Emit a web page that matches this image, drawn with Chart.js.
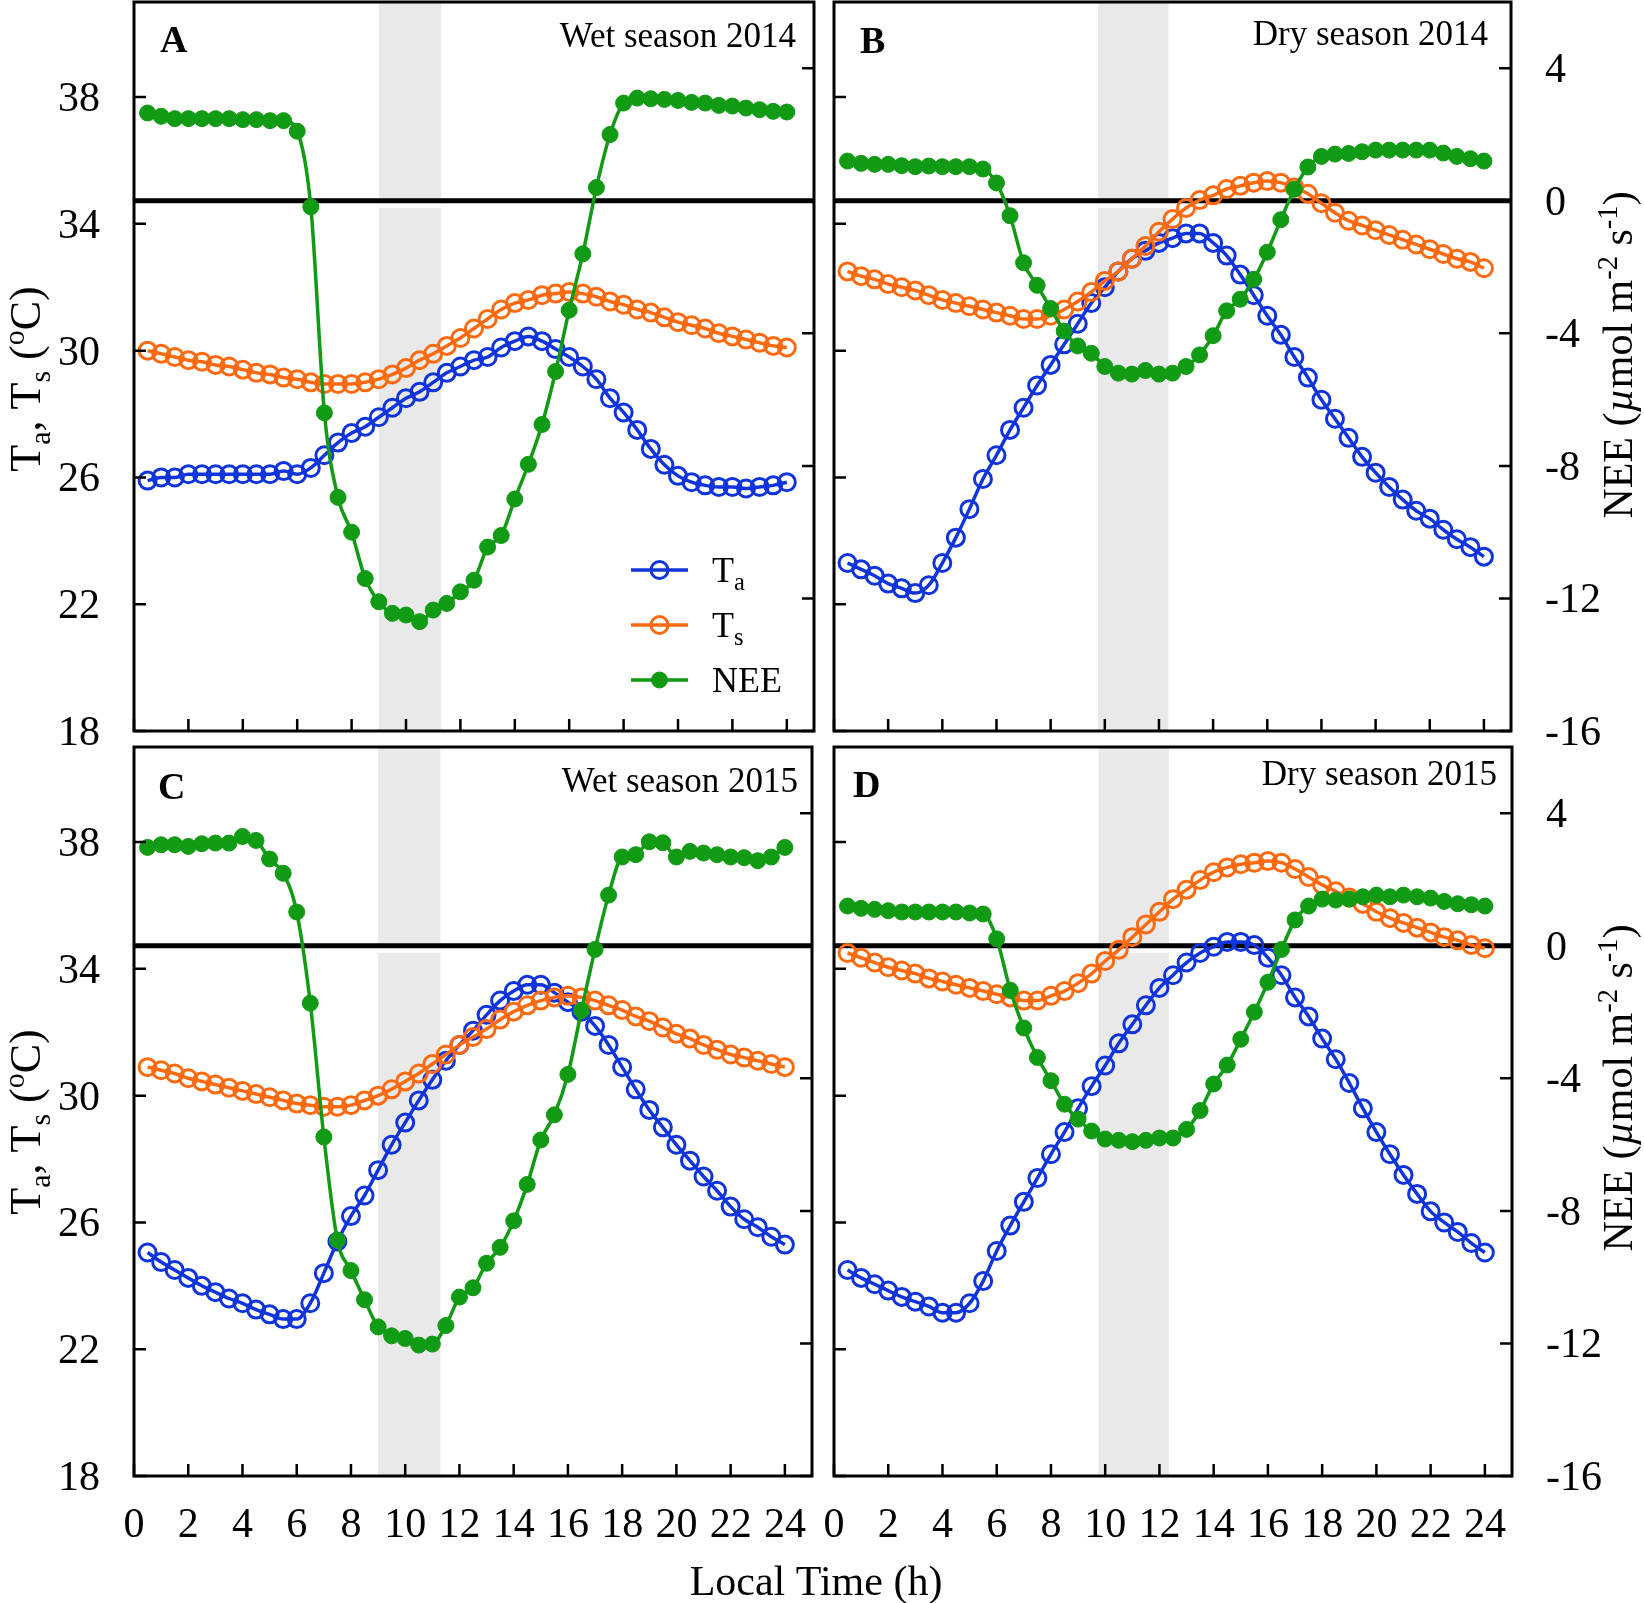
<!DOCTYPE html>
<html>
<head>
<meta charset="utf-8">
<script src="https://cdn.jsdelivr.net/npm/chart.js@4.4.1/dist/chart.umd.min.js"></script>
<style>
  body { margin: 0; background: #fff; }
  canvas { position: absolute; left: 0; top: 0; }
</style>
</head>
<body>
<canvas id="panelA" width="1644" height="1603"></canvas>
<canvas id="panelB" width="1644" height="1603"></canvas>
<canvas id="panelC" width="1644" height="1603"></canvas>
<canvas id="panelD" width="1644" height="1603"></canvas>
<script>
// ---- data (half-hourly means) ----
const hours = [0.5, 1, 1.5, 2, 2.5, 3, 3.5, 4, 4.5, 5, 5.5, 6, 6.5, 7, 7.5, 8, 8.5, 9, 9.5, 10, 10.5, 11, 11.5, 12,
               12.5, 13, 13.5, 14, 14.5, 15, 15.5, 16, 16.5, 17, 17.5, 18, 18.5, 19, 19.5, 20, 20.5, 21, 21.5, 22, 22.5, 23, 23.5, 24];

const hourTicks = [0, 2, 4, 6, 8, 10, 12, 14, 16, 18, 20, 22, 24];
const tempTicks = [18, 22, 26, 30, 34, 38];
const neeTicks = [-16, -12, -8, -4, 0, 4];

// A: wet season 2014
const taA = [25.9, 26.0, 26.0, 26.1, 26.1, 26.1, 26.1, 26.1, 26.1, 26.1, 26.2, 26.1,
             26.3, 26.7, 27.1, 27.4, 27.6, 27.9, 28.2, 28.5, 28.7, 29.0, 29.3, 29.5,
             29.7, 29.8, 30.1, 30.3, 30.45, 30.3, 30.05, 29.8, 29.5, 29.1, 28.5, 28.05,
             27.5, 26.9, 26.4, 26.05, 25.85, 25.75, 25.7, 25.7, 25.65, 25.7, 25.75, 25.85];
const tsA = [30.0, 29.9, 29.8, 29.7, 29.65, 29.55, 29.5, 29.4, 29.3, 29.25, 29.15, 29.1,
             29.0, 28.95, 28.95, 28.95, 29.0, 29.1, 29.25, 29.45, 29.7, 29.9, 30.15, 30.4,
             30.7, 31.0, 31.3, 31.5, 31.6, 31.75, 31.8, 31.85, 31.8, 31.7, 31.55, 31.45,
             31.3, 31.2, 31.05, 30.9, 30.8, 30.7, 30.55, 30.45, 30.35, 30.25, 30.15, 30.1];
const neeA = [2.65, 2.55, 2.48, 2.48, 2.48, 2.48, 2.48, 2.45, 2.45, 2.42, 2.42, 2.1,
              -0.18, -6.4, -8.95, -10.0, -11.4, -12.1, -12.45, -12.5, -12.7, -12.35, -12.15, -11.8,
              -11.45, -10.45, -10.1, -9.0, -7.95, -6.75, -5.15, -3.3, -1.6, 0.4, 2.0, 2.95,
              3.1, 3.08, 3.06, 3.03, 2.97, 2.95, 2.88, 2.86, 2.8, 2.75, 2.7, 2.68];

// B: dry season 2014
const taB = [23.3, 23.1, 22.9, 22.65, 22.5, 22.35, 22.6, 23.3, 24.1, 25.0, 25.95, 26.7,
             27.5, 28.2, 28.9, 29.55, 30.2, 30.85, 31.5, 32.0, 32.5, 32.9, 33.15, 33.4,
             33.55, 33.7, 33.7, 33.4, 33.0, 32.4, 31.75, 31.1, 30.5, 29.8, 29.15, 28.45,
             27.85, 27.25, 26.65, 26.15, 25.7, 25.3, 24.95, 24.7, 24.35, 24.05, 23.8, 23.5];
const tsB = [32.5, 32.35, 32.25, 32.1, 32.0, 31.9, 31.75, 31.6, 31.5, 31.4, 31.3, 31.2,
             31.1, 31.0, 31.0, 31.1, 31.3, 31.55, 31.85, 32.2, 32.5, 32.9, 33.3, 33.75,
             34.15, 34.5, 34.75, 34.9, 35.1, 35.2, 35.3, 35.35, 35.3, 35.15, 34.95, 34.65,
             34.35, 34.1, 33.95, 33.8, 33.65, 33.5, 33.35, 33.2, 33.05, 32.9, 32.8, 32.6];
const neeB = [1.2, 1.13, 1.1, 1.1, 1.06, 1.03, 1.05, 1.03, 1.03, 1.03, 0.96, 0.54,
              -0.45, -1.87, -2.55, -3.25, -3.93, -4.38, -4.6, -5.0, -5.2, -5.23, -5.12, -5.23,
              -5.2, -5.0, -4.65, -4.07, -3.32, -2.97, -2.37, -1.55, -0.57, 0.35, 1.02, 1.34,
              1.41, 1.43, 1.48, 1.53, 1.53, 1.53, 1.53, 1.53, 1.44, 1.34, 1.27, 1.2];

// C: wet season 2015
const taC = [25.05, 24.75, 24.5, 24.25, 24.0, 23.8, 23.6, 23.45, 23.25, 23.1, 22.95, 22.95,
             23.45, 24.4, 25.4, 26.2, 26.85, 27.65, 28.45, 29.15, 29.85, 30.5, 31.1, 31.6,
             32.05, 32.55, 33.0, 33.3, 33.5, 33.5, 33.25, 32.95, 32.65, 32.2, 31.6, 30.9,
             30.2, 29.55, 29.0, 28.45, 27.95, 27.45, 27.0, 26.5, 26.1, 25.85, 25.55, 25.3];
const tsC = [30.9, 30.8, 30.7, 30.55, 30.45, 30.35, 30.25, 30.15, 30.05, 29.95, 29.85, 29.75,
             29.7, 29.65, 29.65, 29.7, 29.85, 30.0, 30.2, 30.45, 30.7, 31.0, 31.3, 31.6,
             31.85, 32.1, 32.4, 32.65, 32.85, 33.0, 33.1, 33.15, 33.1, 33.0, 32.85, 32.7,
             32.5, 32.35, 32.15, 31.95, 31.8, 31.6, 31.45, 31.3, 31.2, 31.1, 31.0, 30.9];
const neeC = [2.97, 3.05, 3.05, 3.0, 3.08, 3.1, 3.1, 3.3, 3.18, 2.62, 2.19, 1.02,
              -1.73, -5.77, -8.88, -9.8, -10.68, -11.5, -11.77, -11.85, -12.05, -12.02, -11.46, -10.6,
              -10.32, -9.58, -9.1, -8.3, -7.2, -5.86, -5.1, -3.88, -1.95, -0.11, 1.53, 2.68,
              2.75, 3.14, 3.11, 2.68, 2.85, 2.8, 2.75, 2.68, 2.66, 2.57, 2.68, 2.97];

// D: dry season 2015
const taD = [24.5, 24.25, 24.05, 23.85, 23.65, 23.5, 23.35, 23.15, 23.15, 23.45, 24.15, 25.1,
             25.9, 26.65, 27.4, 28.15, 28.85, 29.6, 30.3, 30.95, 31.65, 32.25, 32.85, 33.4,
             33.8, 34.2, 34.5, 34.7, 34.85, 34.85, 34.75, 34.35, 33.8, 33.1, 32.5, 31.8,
             31.15, 30.4, 29.6, 28.85, 28.15, 27.5, 26.9, 26.35, 26.0, 25.7, 25.35, 25.05];
const tsD = [34.5, 34.35, 34.2, 34.05, 33.95, 33.85, 33.7, 33.6, 33.5, 33.4, 33.3, 33.2,
             33.1, 33.0, 33.0, 33.15, 33.3, 33.55, 33.85, 34.25, 34.6, 35.0, 35.4, 35.8,
             36.2, 36.5, 36.8, 37.05, 37.2, 37.3, 37.35, 37.4, 37.35, 37.15, 36.9, 36.65,
             36.45, 36.25, 36.05, 35.8, 35.6, 35.45, 35.3, 35.15, 35.0, 34.9, 34.75, 34.65];
const neeD = [1.2, 1.13, 1.1, 1.06, 1.02, 1.02, 1.02, 1.02, 1.02, 0.99, 0.96, 0.21,
              -1.34, -2.48, -3.37, -4.07, -4.78, -5.23, -5.59, -5.83, -5.87, -5.91, -5.87, -5.8,
              -5.8, -5.54, -4.97, -4.17, -3.6, -2.82, -2.0, -1.1, -0.11, 0.78, 1.2, 1.41,
              1.38, 1.41, 1.48, 1.53, 1.48, 1.53, 1.48, 1.44, 1.34, 1.27, 1.24, 1.2];

// shaded hours (start, end) for wet and dry panels
const wetBand = [9.0, 11.3];
const dryBand = [9.75, 12.35];

const BLUE = '#0f34dc';
const ORANGE = '#ff6a10';
const GREEN = '#119a14';
const FONT = '"Liberation Serif", "Times New Roman", serif';
const W = 1644, H = 1603;

// ---- small text helpers (subscripts / superscripts) ----
function partFont(p, size) {
  const s = (p.sub || p.sup) ? size * 0.68 : size;
  return (p.italic ? 'italic ' : '') + (p.bold ? 'bold ' : '') + s + 'px ' + FONT;
}
function drawRich(ctx, parts, x, y, size, align) {
  let w = 0;
  parts.forEach(p => { ctx.font = partFont(p, size); w += ctx.measureText(p.t).width; });
  let cx = align === 'center' ? x - w / 2 : (align === 'right' ? x - w : x);
  ctx.textAlign = 'left';
  ctx.textBaseline = 'alphabetic';
  parts.forEach(p => {
    ctx.font = partFont(p, size);
    const dy = p.sub ? size * 0.22 : (p.sup ? -size * 0.36 : 0);
    ctx.fillText(p.t, cx, y + dy);
    cx += ctx.measureText(p.t).width;
  });
}

const tempTitle = [{t: 'T'}, {t: 'a', sub: true}, {t: ', T'}, {t: 's', sub: true}, {t: ' ('}, {t: 'o', sup: true}, {t: 'C)'}];
const neeTitle = [{t: 'NEE ('}, {t: 'µ', italic: true}, {t: 'mol m'}, {t: '-2', sup: true}, {t: ' s'}, {t: '-1', sup: true}, {t: ')'}];
const legendNames = [[{t: 'T'}, {t: 'a', sub: true}], [{t: 'T'}, {t: 's', sub: true}], [{t: 'NEE'}]];

// ---- plugin drawing band, zero line, frame, ticks and texts ----
const panelDeco = {
  id: 'panelDeco',
  beforeDatasetsDraw(chart, args, o) {
    const {ctx, chartArea: a, scales: {x, yN}} = chart;
    const b1 = x.getPixelForValue(o.band[0]);
    const b2 = x.getPixelForValue(o.band[1]);
    const y0 = yN.getPixelForValue(0);
    ctx.save();
    ctx.fillStyle = '#e9e9e9';
    ctx.fillRect(b1, a.top, b2 - b1, a.bottom - a.top);
    ctx.fillStyle = '#fff';
    ctx.fillRect(b1, y0, b2 - b1, 7);
    ctx.strokeStyle = '#000';
    ctx.lineWidth = 5;
    ctx.beginPath();
    ctx.moveTo(a.left, y0);
    ctx.lineTo(a.right, y0);
    ctx.stroke();
    ctx.restore();
  },
  afterDatasetsDraw(chart, args, o) {
    const {ctx, chartArea: a, scales: {x, yT, yN}} = chart;
    const tl = 12;
    ctx.save();
    ctx.strokeStyle = '#000';
    ctx.fillStyle = '#000';

    // ticks (inward)
    ctx.lineWidth = 2.5;
    ctx.beginPath();
    tempTicks.forEach(v => {
      const py = yT.getPixelForValue(v);
      ctx.moveTo(a.left, py); ctx.lineTo(a.left + tl, py);
    });
    neeTicks.forEach(v => {
      const py = yN.getPixelForValue(v);
      ctx.moveTo(a.right, py); ctx.lineTo(a.right - tl, py);
    });
    hourTicks.forEach(v => {
      const px = x.getPixelForValue(v);
      ctx.moveTo(px, a.bottom); ctx.lineTo(px, a.bottom - tl);
    });
    ctx.stroke();

    // frame
    ctx.lineWidth = 3;
    ctx.strokeRect(a.left, a.top, a.right - a.left, a.bottom - a.top);

    // tick labels
    ctx.font = '42px ' + FONT;
    ctx.textBaseline = 'alphabetic';
    if (o.leftLabels) {
      ctx.textAlign = 'right';
      tempTicks.forEach(v => ctx.fillText(String(v), a.left - 34, yT.getPixelForValue(v) + 14));
    }
    if (o.rightLabels) {
      ctx.textAlign = 'left';
      neeTicks.forEach(v => ctx.fillText(String(v), a.right + 34, yN.getPixelForValue(v) + 14));
    }
    if (o.bottomLabels) {
      ctx.textAlign = 'center';
      hourTicks.forEach(v => ctx.fillText(String(v), x.getPixelForValue(v), 1537));
    }

    // panel letter and season title
    ctx.font = 'bold 38px ' + FONT;
    ctx.textAlign = 'left';
    ctx.fillText(o.letter, o.letterPos[0], o.letterPos[1]);
    ctx.font = '35px ' + FONT;
    ctx.textAlign = 'right';
    ctx.fillText(o.title, o.titlePos[0], o.titlePos[1]);

    // axis titles
    if (o.leftTitle) {
      ctx.save();
      ctx.translate(o.leftTitle[0], o.leftTitle[1]);
      ctx.rotate(-Math.PI / 2);
      drawRich(ctx, tempTitle, 0, 0, 44, 'center');
      ctx.restore();
    }
    if (o.rightTitle) {
      ctx.save();
      ctx.translate(o.rightTitle[0], o.rightTitle[1]);
      ctx.rotate(-Math.PI / 2);
      drawRich(ctx, neeTitle, 0, 0, 42, 'center');
      ctx.restore();
    }
    if (o.xTitle) {
      ctx.font = '42px ' + FONT;
      ctx.textAlign = 'center';
      ctx.fillText('Local Time (h)', o.xTitle[0], o.xTitle[1]);
    }

    // legend (panel A only), styled from the datasets
    if (o.legend) {
      chart.data.datasets.forEach((ds, i) => {
        const ly = o.legend.y[i];
        ctx.strokeStyle = ds.borderColor;
        ctx.lineWidth = ds.borderWidth;
        ctx.beginPath();
        ctx.moveTo(o.legend.x1, ly); ctx.lineTo(o.legend.x2, ly);
        ctx.stroke();
        const mx = (o.legend.x1 + o.legend.x2) / 2;
        ctx.beginPath();
        ctx.arc(mx, ly, ds.pointRadius, 0, Math.PI * 2);
        if (ds.pointBackgroundColor !== 'rgba(0,0,0,0)') {
          ctx.fillStyle = ds.pointBackgroundColor;
          ctx.fill();
        }
        ctx.lineWidth = ds.pointBorderWidth;
        ctx.strokeStyle = ds.pointBorderColor;
        ctx.stroke();
        ctx.fillStyle = '#000';
        drawRich(ctx, legendNames[i], o.legend.tx, ly + 12, 36, 'left');
      });
    }
    ctx.restore();
  }
};

function series(values) {
  return hours.map((h, i) => ({x: h, y: values[i]}));
}

function makePanel(id, ta, ts, nee, box, deco) {
  new Chart(document.getElementById(id), {
    type: 'line',
    data: {
      datasets: [
        {label: 'Ta', data: series(ta), yAxisID: 'yT', order: 3,
         borderColor: BLUE, borderWidth: 3.5, pointRadius: 8.5, pointBorderWidth: 3,
         pointBorderColor: BLUE, pointBackgroundColor: 'rgba(0,0,0,0)', cubicInterpolationMode: 'monotone'},
        {label: 'Ts', data: series(ts), yAxisID: 'yT', order: 2,
         borderColor: ORANGE, borderWidth: 3.5, pointRadius: 8.5, pointBorderWidth: 3,
         pointBorderColor: ORANGE, pointBackgroundColor: 'rgba(0,0,0,0)', cubicInterpolationMode: 'monotone'},
        {label: 'NEE', data: series(nee), yAxisID: 'yN', order: 1,
         borderColor: GREEN, borderWidth: 3.5, pointRadius: 8, pointBorderWidth: 1,
         pointBorderColor: GREEN, pointBackgroundColor: GREEN, cubicInterpolationMode: 'monotone'}
      ]
    },
    options: {
      responsive: false,
      animation: false,
      devicePixelRatio: 1,
      events: [],
      layout: {autoPadding: false, padding: {left: box[0], top: box[1], right: W - box[2], bottom: H - box[3]}},
      scales: {
        x: {type: 'linear', min: 0, max: 25, display: false},
        yT: {type: 'linear', min: 18, max: 41, display: false},
        yN: {type: 'linear', min: -16, max: 6, display: false}
      },
      plugins: {legend: {display: false}, tooltip: {enabled: false}, panelDeco: deco}
    },
    plugins: [panelDeco]
  });
}

makePanel('panelA', taA, tsA, neeA, [134, 2, 814, 731], {
  band: wetBand, letter: 'A', letterPos: [160, 52], title: 'Wet season 2014', titlePos: [796, 47],
  leftLabels: true, leftTitle: [40, 379],
  legend: {x1: 631, x2: 688, tx: 712, y: [570, 625, 680]}
});
makePanel('panelB', taB, tsB, neeB, [834, 2, 1511, 731], {
  band: dryBand, letter: 'B', letterPos: [860, 53], title: 'Dry season 2014', titlePos: [1488, 45],
  rightLabels: true, rightTitle: [1632, 355]
});
makePanel('panelC', taC, tsC, neeC, [134, 747, 812, 1476], {
  band: wetBand, letter: 'C', letterPos: [158, 799], title: 'Wet season 2015', titlePos: [798, 792],
  leftLabels: true, bottomLabels: true, leftTitle: [40, 1122], xTitle: [816, 1595]
});
makePanel('panelD', taD, tsD, neeD, [834, 747, 1512, 1476], {
  band: dryBand, letter: 'D', letterPos: [853, 797], title: 'Dry season 2015', titlePos: [1497, 785],
  rightLabels: true, bottomLabels: true, rightTitle: [1632, 1088]
});
</script>
</body>
</html>
